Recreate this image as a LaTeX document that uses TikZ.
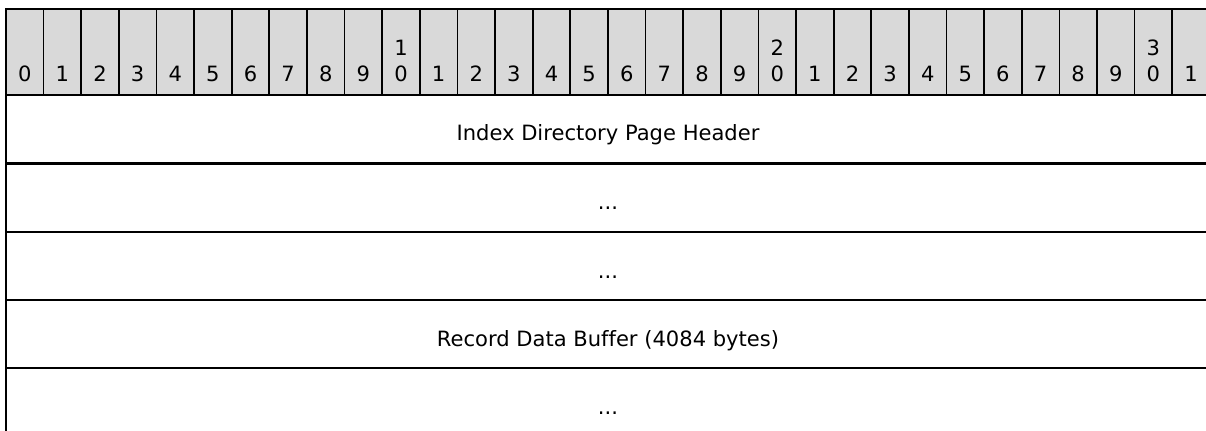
\documentclass[tikz,border=0pt]{standalone}
\usepackage{fontspec}
\setmainfont[Ligatures={NoCommon}]{DejaVu Sans}
\definecolor{hdrgray}{HTML}{D9D9D9}
\tikzset{
  frame/.style={line width=1.6pt, line cap=rect},
  bitsep/.style={line width=1.3pt},
  bitlabel/.style={anchor=base, inner sep=0pt, font=\fontsize{15.8}{18}\selectfont},
  fieldlabel/.style={anchor=base, inner sep=0pt, font=\fontsize{15.8}{18}\selectfont},
}
\begin{document}
\begin{tikzpicture}[x=0.75pt,y=-0.75pt]
\useasboundingbox (0,0) rectangle (1206,431);
\clip (0,0) rectangle (1206,431);
\pgfmathsetmacro{\colw}{37.62}
% bit-number header band
\fill[hdrgray] (6,9) rectangle (1212,95);
\foreach \i in {1,...,31}
  \draw[bitsep] ({6+\i*\colw},9) -- ({6+\i*\colw},95);
\foreach \i in {0,...,31}{
  \pgfmathtruncatemacro{\lo}{mod(\i,10)}
  \pgfmathtruncatemacro{\hi}{div(\i,10)}
  \node[bitlabel] (bit\i) at ({6+(\i+0.5)*\colw},82) {\lo};
  \ifnum\lo=0 \ifnum\hi>0
    \node[bitlabel] (bithi\i) at ({6+(\i+0.5)*\colw},56) {\hi};
  \fi\fi
}
% outer frame and row separators
\draw[frame] (6,440) -- (6,9) -- (1212,9);
\foreach \y in {95,163.5,232,300,368}
  \draw[frame] (6,\y) -- (1212,\y);
% field names
\node[fieldlabel] (f1) at (608,141) {Index Directory Page Header};
\node[fieldlabel] (f2) at (608,209.5) {...};
\node[fieldlabel] (f3) at (608,278) {...};
\node[fieldlabel] (f4) at (608,346) {Record Data Buffer (4084 bytes)};
\node[fieldlabel] (f5) at (608,414) {...};
\end{tikzpicture}
\end{document}
